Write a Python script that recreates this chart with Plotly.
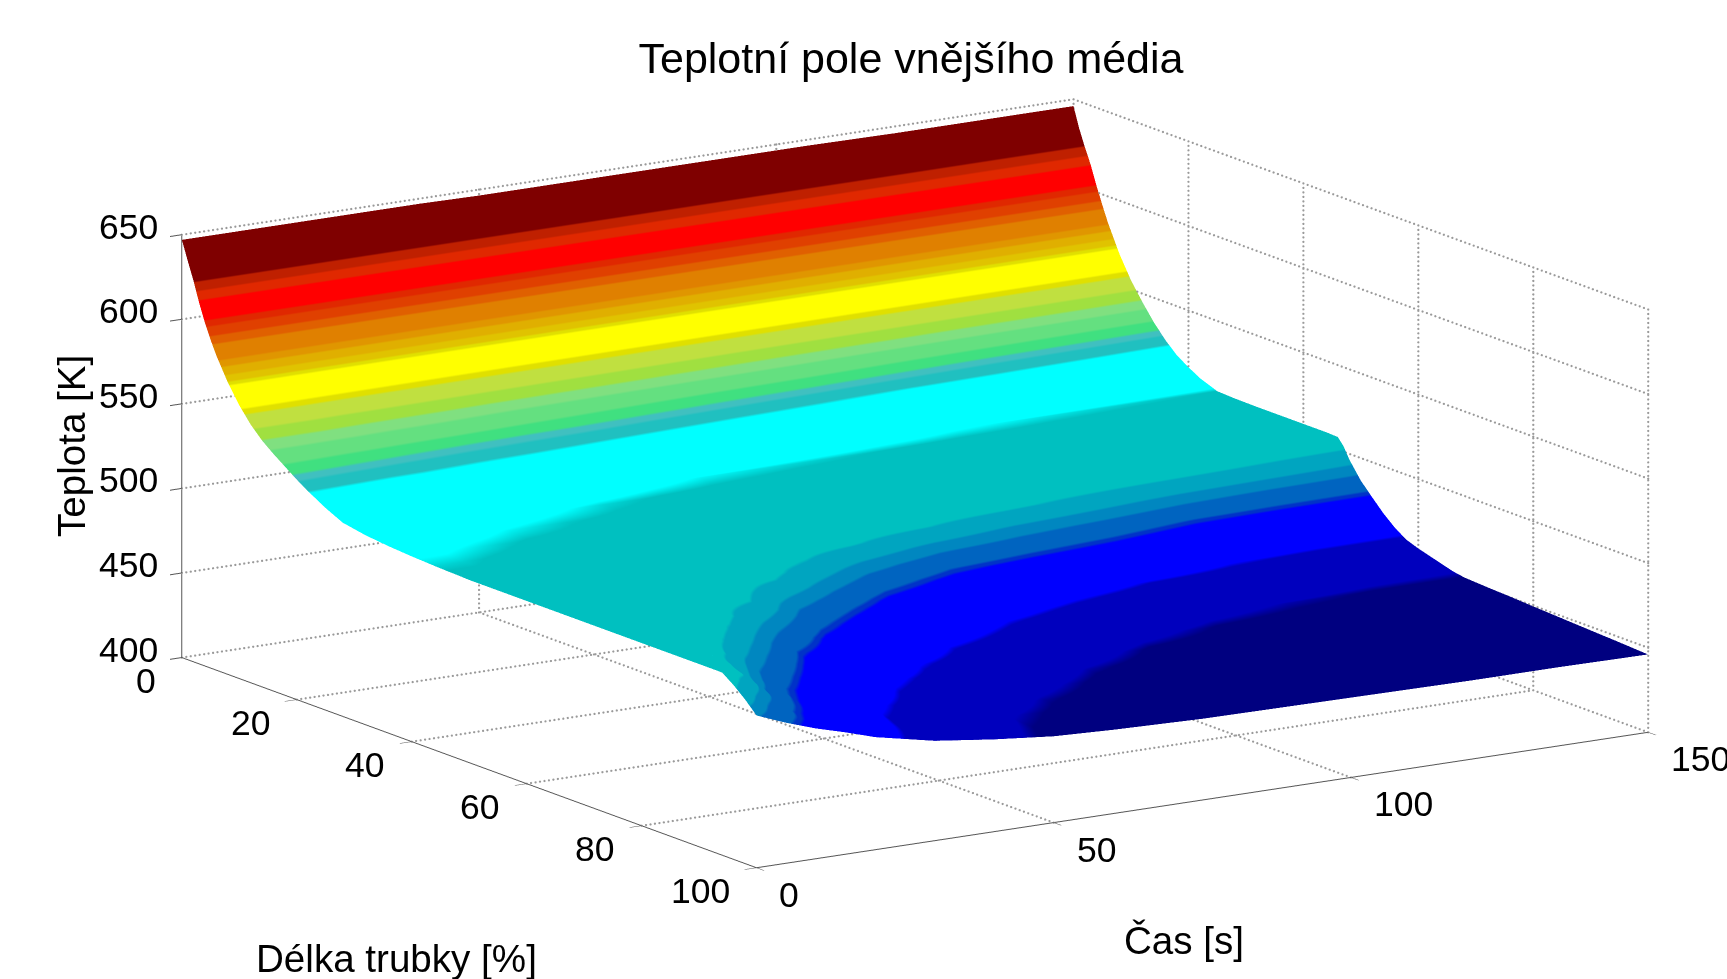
import plotly.graph_objects as go

title_text = "Teplotní pole vnějšího média"
time_s = [0, 5, 10, 15, 20, 30, 40, 50, 60, 75, 90, 105, 120, 135, 150]
length_pct = [0, 1, 2, 3, 4, 5, 6, 8, 10, 12, 14, 16, 18, 20, 22, 25, 28, 32, 36, 40,
              44, 46, 47, 48, 50, 52, 54, 56, 58, 60, 62, 64, 66, 68, 72, 76, 80, 84, 88, 92, 94, 96, 98, 100]
temperature_k = [
 [647,647,647,647,647,647,647,646.5,646.5,646.5,646.5,646.5,646,646,646],
 [636,636,636,636,636,635.5,635.5,635.5,635,635,635,634.5,634.5,634,634],
 [625.5,625.5,625.5,625.5,625.5,625,625,625,625,625,624.5,624.5,624.5,624,624],
 [613.5,613.5,613.6,613.6,613.7,613.8,613.9,614,614.1,614.3,614.4,614.5,614.7,614.9,615],
 [603,603,603.1,603.1,603.1,603.2,603.3,603.3,603.4,603.5,603.6,603.7,603.8,603.9,604],
 [594,594,594,594,594,594,594,594,594,594,594,594,594,594,594],
 [586,586,585.9,585.9,585.8,585.7,585.6,585.5,585.4,585.3,585.1,585,584.8,584.6,584.5],
 [572.5,572.4,572.2,572.1,572,571.7,571.4,571.2,570.9,570.5,570.1,569.7,569.3,568.9,568.5],
 [561.5,561.3,561.1,560.9,560.7,560.3,559.9,559.5,559.1,558.5,557.9,557.3,556.7,556.1,555.5],
 [552.5,552.5,552.5,552,552,551.5,551,550.5,550,549,548,547.5,546.5,546,545],
 [545.5,545.5,545.5,545,544.5,544,543,542.5,542,541,540,538.5,537.5,536.5,535.5],
 [540,540,539.5,539.5,539,538.5,537.5,536.5,535.5,534,533,531.5,530,529,527.5],
 [535,534.5,534,533.5,533,532,531,530.5,529.5,528,526.5,525,524,522.5,521],
 [530,529.5,529,528.5,528,527,526.5,525.5,524.5,523,522,520.5,519,518,516.5],
 [525.5,525,524.5,524,524,523,522,521,520.5,519,517.5,516.5,515,514,512.5],
 [519.5,519.5,519,518.5,518,517,516,514.5,513.5,512,510.5,509.5,509,508.7,508.5],
 [514.5,514.5,514,513.5,513,512,511,510,509.2,508.8,508.5,508.3,508.2,508.1,508],
 [512,512,511.5,511,510.5,509.7,508.8,508.4,508.2,508,508,508,508,508,507.8],
 [510.5,510.5,510,509.7,509.2,508.6,508.3,508.1,508,508,508,508,508,508,507.8],
 [509.5,509.5,509.1,508.7,508.4,508.2,508,508,508,508,508,508,508,508,507.8],
 [508.8,508.7,508.4,508.2,508,508,508,508,508,508,508,508,508,508,507.8],
 [508.5,508.5,508.3,508.1,508,508,508,508,508,508,508,508,508,507.8,507.5],
 [508.4,508.4,508.2,508,508,508,508,508,508,508,508,507.8,507,505,503.3],
 [508.3,508.3,508.1,508,508,508,508,508,508,508,507.5,506,504,500.5,496.7],
 [508,508,508,508,508,508,508,508,508,507,504,497.5,491,488,486.7],
 [508,508,508,508,508,508,508,508,507,502,492.5,487.5,481.2,479.7,479.2],
 [508,508,508,508,508,508,508,507,503.5,490.3,484.5,480.5,474.5,472.5,472],
 [508,508,508,508,508,508,508,503.5,494.5,482.3,477.5,474.5,468.5,466.5,466],
 [508,508,508,508,508,508,507,499.5,487.8,477,472.5,468.5,463.5,461.8,461.5],
 [508,508,508,508,508,508,505.5,494,482.5,473,468,462.5,460.8,459.3,459],
 [508,508,508,508,508,507.7,501.5,488.5,477.5,469.5,464,460,458.8,457.3,457],
 [508,508,508,508,508,507,495,483.5,474,466.5,461,458,456.8,455.3,455],
 [508,508,508,508,508,504.5,489.5,479.5,471,463.5,459,456,454.8,453.3,453],
 [508,508,508,508,508,501.5,485.5,475.5,468.5,461.5,457.5,454,452.5,451.8,451.8],
 [508,508,508,508,506.5,491,477.5,470,463,458,454,451.7,451.2,451,451],
 [508,508,508,506.5,499,482,472.5,464,459.5,455,451.5,450.8,450.5,450.5,450.4],
 [508,508,507.5,499.5,491,476,466,460.5,456.7,452.5,450.5,450.2,449.8,449.8,449.6],
 [508,508,502,491,484,470.5,462.3,457.5,454.2,451,449.8,449.5,449.1,449.1,448.9],
 [508,507,495,484,478,465.5,459.5,455,452.3,450.2,449.3,449,448.4,448.4,448.2],
 [508,503,487.5,480,474,462.5,457.5,453,451.2,449.5,448.8,448.4,447.8,447.8,447.5],
 [508,497,485,478,472,461.5,456.5,452.5,450.8,449.2,448.5,448,447.5,447.5,447.2],
 [503,491,482,476,470,460.8,455.8,452,450.4,448.8,448.2,447.7,447.1,447.1,446.8],
 [497,486.5,480,474,468,460,455,451.5,450,448.4,447.8,447.3,446.8,446.8,446.4],
 [490,483,477,472,466.5,459,454.5,451,449.5,448,447.5,447,446.5,446.5,446],
]
band_edges = [440, 452, 463, 480.5, 482, 489, 494, 502, 509.5, 526, 529.5, 532, 536, 542, 546.5, 551.5,
              557.5, 560, 571.5, 573.5, 577, 580.5, 584.5, 592, 596.5, 601, 605, 615, 620, 625, 650]
band_colors = ["#000080", "#0000be", "#0000ff", "#0032c8", "#0064c0", "#0087c0", "#00a5c0", "#00c0c0",
               "#00ffff", "#20c0c0", "#40c0c0", "#40e080", "#64e080", "#80e080", "#a0e040", "#c0e040",
               "#e0e000", "#ffff00", "#e0e000", "#e0c300", "#e0af00", "#e09600", "#e08000", "#e06000",
               "#e04000", "#e02800", "#ff0000", "#e02800", "#bf2000", "#7f0000"]
t_ticks = [0, 50, 100, 150]
l_ticks = [0, 20, 40, 60, 80, 100]
z_ticks = [400, 450, 500, 550, 600, 650]

span = band_edges[-1] - band_edges[0]
scale = []
for i, c in enumerate(band_colors):
    scale.append([(band_edges[i] - band_edges[0]) / span, c])
    scale.append([(band_edges[i + 1] - band_edges[0]) / span, c])

fig = go.Figure()
fig.add_trace(go.Surface(
    x=time_s, y=length_pct, z=temperature_k,
    colorscale=scale, cmin=band_edges[0], cmax=band_edges[-1], showscale=False,
    lighting=dict(ambient=1, diffuse=0, specular=0, roughness=1, fresnel=0),
    hoverinfo="skip", contours=dict(x=dict(highlight=False), y=dict(highlight=False), z=dict(highlight=False)),
))

# dotted MATLAB-style grid on the floor and two back walls, derived from the tick lists
gx, gy, gz = [], [], []
def seg(a, b, n):
    for k in range(n + 1):
        f = k / n
        gx.append(a[0] + (b[0] - a[0]) * f); gy.append(a[1] + (b[1] - a[1]) * f); gz.append(a[2] + (b[2] - a[2]) * f)
T0, T1, L0, L1, Z0, Z1 = t_ticks[0], t_ticks[-1], l_ticks[0], l_ticks[-1], z_ticks[0], z_ticks[-1]
for t in t_ticks:
    if t != T0:
        seg((t, L0, Z0), (t, L1, Z0), 135)
        seg((t, L0, Z0), (t, L0, Z1), 94)
for l in l_ticks:
    if l != L1:
        seg((T0, l, Z0), (T1, l, Z0), 200)
    seg((T1, l, Z0), (T1, l, Z1), 94)
for z in z_ticks:
    seg((T0, L0, z), (T1, L0, z), 200)
    seg((T1, L0, z), (T1, L1, z), 135)
fig.add_trace(go.Scatter3d(x=gx, y=gy, z=gz, mode="markers",
                           marker=dict(color="#9a9a9a", size=1.3, line=dict(width=0)),
                           hoverinfo="skip", showlegend=False))

font = "Liberation Sans"
tick_font = dict(family=font, size=35.5, color="black")
label_font = dict(family=font, size=38.6, color="black")
axis = dict(showbackground=False, showgrid=False, zeroline=False, showspikes=False,
            showline=True, linecolor="#555555", linewidth=2, showticklabels=False,
            ticks="outside", ticklen=14, tickcolor="#555555", tickwidth=2,
            title=dict(text=""))
tick_labels = []
for z in z_ticks:
    tick_labels.append(dict(x=T0, y=L0, z=z, text=str(z), showarrow=False, xanchor="right", yanchor="middle",
                            xshift=-22, yshift=8, font=tick_font))
for l in l_ticks:
    tick_labels.append(dict(x=T0, y=l, z=Z0, text=str(l), showarrow=False, xanchor="right", yanchor="middle",
                            xshift=-24, yshift=-23, font=tick_font))
for t in t_ticks:
    tick_labels.append(dict(x=t, y=L1, z=Z0, text=str(t), showarrow=False, xanchor="left", yanchor="middle",
                            xshift=21, yshift=-27, font=tick_font))

page_w, page_h = 1727, 979
def px(x): return x / page_w
def py(y): return 1 - y / page_h

fig.update_layout(
    width=page_w, height=page_h, margin=dict(l=0, r=0, t=0, b=0, autoexpand=False), paper_bgcolor="white",
    showlegend=False,
    title=dict(text=title_text, x=px(911), y=py(58), xref="paper", yref="paper",
               xanchor="center", yanchor="middle", font=dict(family=font, size=43, color="black")),
    scene=dict(
        domain=dict(x=[0.0595, 1.0], y=[0.0204, 0.9918]),
        aspectmode="manual", aspectratio=dict(x=2.231, y=2.231, z=0.915),
        camera=dict(eye=dict(x=-0.5266 * 5, y=-0.8171 * 5, z=0.2358 * 5),
                    center=dict(x=0, y=0, z=0), up=dict(x=0, y=0, z=1),
                    projection=dict(type="orthographic")),
        xaxis=dict(axis, range=[0, 150], tickvals=t_ticks),
        yaxis=dict(axis, range=[100, 0], tickvals=l_ticks),
        zaxis=dict(axis, range=[400, 650], tickvals=z_ticks),
        annotations=tick_labels,
    ),
    annotations=[
        dict(text="Délka trubky [%]", x=px(396), y=py(958), xref="paper", yref="paper", showarrow=False,
             xanchor="center", yanchor="middle", font=label_font),
        dict(text="Čas [s]", x=px(1184), y=py(940), xref="paper", yref="paper", showarrow=False,
             xanchor="center", yanchor="middle", font=label_font),
        dict(text="Teplota [K]", x=px(72), y=py(446), xref="paper", yref="paper", showarrow=False,
             xanchor="center", yanchor="middle", textangle=-90, font=label_font),
    ],
)
fig.write_html("out.html", config={"displayModeBar": False},
               post_script="document.body.style.margin='0';document.documentElement.style.overflow='hidden';")
